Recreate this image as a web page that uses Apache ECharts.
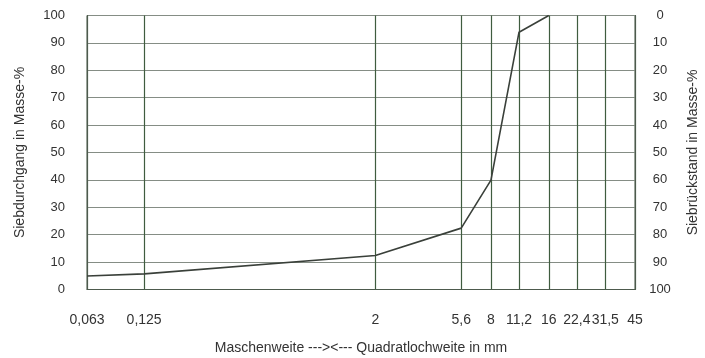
<!DOCTYPE html>
<html>
<head>
<meta charset="utf-8">
<script src="https://cdn.jsdelivr.net/npm/echarts@6/dist/echarts.min.js"></script>
<style>html,body{margin:0;padding:0;background:#fff}#c{width:705px;height:358px}</style>
</head>
<body>
<div id="c"></div>
<script>
var sieveSizes = [0.063, 0.125, 2, 5.6, 8, 11.2, 16, 22.4, 31.5, 45];
var sieveLabels = ['0,063', '0,125', '2', '5,6', '8', '11,2', '16', '22,4', '31,5', '45'];
var curveSizes = [0.063, 0.125, 2, 5.6, 8, 11.2, 16];
var passingPct = [4.9, 5.7, 12.4, 22.4, 39.9, 93.9, 100];
var yTicks = [0, 10, 20, 30, 40, 50, 60, 70, 80, 90, 100];

function labelFor(v) {
  var best = 0, bd = Infinity;
  for (var i = 0; i < sieveSizes.length; i++) {
    var d = Math.abs(Math.log(v) - Math.log(sieveSizes[i]));
    if (d < bd) { bd = d; best = i; }
  }
  return sieveLabels[best];
}

var chart = echarts.init(document.getElementById('c'));
var font = '"Liberation Sans", Arial, sans-serif';
chart.setOption({
  animation: false,
  grid: { left: 87, right: 70, top: 15.5, bottom: 68.5, show: true, borderColor: '#4d5a4d', borderWidth: 1, containLabel: false, outerBoundsMode: 'none' },
  xAxis: {
    type: 'log', logBase: 2, min: 0.063, max: 45,
    name: 'Maschenweite ---><--- Quadratlochweite in mm',
    nameLocation: 'middle', nameGap: 52,
    nameTextStyle: { fontFamily: font, fontSize: 14, color: '#333' },
    axisLine: { show: true, lineStyle: { color: '#4d5a4d', width: 1 } },
    axisTick: { show: false, customValues: sieveSizes },
    axisLabel: { customValues: sieveSizes, formatter: labelFor, margin: 24, fontFamily: font, fontSize: 14, color: '#333' },
    splitLine: { show: true, lineStyle: { color: '#3f5c3f', width: 1.2 } },
    minorSplitLine: { show: false }
  },
  yAxis: [{
    type: 'value', min: 0, max: 100, interval: 10,
    name: 'Siebdurchgang in Masse-%', nameLocation: 'middle', nameRotate: 90, nameGap: 60,
    nameTextStyle: { fontFamily: font, fontSize: 14, color: '#333' },
    axisLine: { show: true, lineStyle: { color: '#4d5a4d' } },
    axisTick: { show: false },
    axisLabel: { margin: 22, fontFamily: font, fontSize: 13, color: '#333' },
    splitLine: { show: true, lineStyle: { color: '#858d85', width: 1.2 } }
  }, {
    type: 'value', min: 0, max: 100, interval: 10, inverse: true, position: 'right',
    name: 'Siebrückstand in Masse-%', nameLocation: 'middle', nameRotate: 90, nameGap: 51,
    nameTextStyle: { fontFamily: font, fontSize: 14, color: '#333' },
    axisLine: { show: true, lineStyle: { color: '#4d5a4d' } },
    axisTick: { show: false },
    axisLabel: { margin: 25, align: 'center', fontFamily: font, fontSize: 13, color: '#333' },
    splitLine: { show: false }
  }],
  series: [{
    type: 'line', yAxisIndex: 0, showSymbol: false, symbol: 'none',
    lineStyle: { color: '#3a403a', width: 1.6 },
    data: curveSizes.map(function (s, i) { return [s, passingPct[i]]; })
  }]
});
</script>
</body>
</html>
